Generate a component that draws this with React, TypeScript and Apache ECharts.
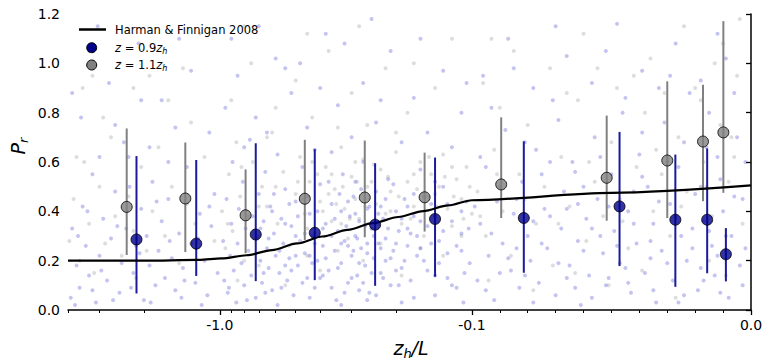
import React, { useEffect, useRef } from "react";
import * as echarts from "echarts";

// ---- data ----
const xMin = -4.0;
const xMax = 0.0;
const majorTicks = [-1.0, -0.1, 0.0];
const majorLabels = ["-1.0", "-0.1", "0.0"];
const minorTicks = [-4, -3, -2, -0.9, -0.8, -0.7, -0.6, -0.5, -0.4, -0.3, -0.2,
  -0.09, -0.08, -0.07, -0.06, -0.05, -0.04, -0.03, -0.02, -0.01];
const yTicks = [0, 0.2, 0.4, 0.6, 0.8, 1.0, 1.2];

const hfX = [-4.0, -2.0, -1.211, -0.984, -0.782, -0.621, -0.493, -0.392, -0.311, -0.247, -0.196, -0.156, -0.124, -0.1, -0.05, 0];
const hfPr = [0.2, 0.2, 0.203, 0.209, 0.222, 0.243, 0.27, 0.298, 0.325, 0.352, 0.377, 0.401, 0.424, 0.445, 0.475, 0.505];

const binXBlue = [-2.14, -1.24, -0.72, -0.42, -0.242, -0.14, -0.0814, -0.0471, -0.0271, -0.0157, -0.009];
const prBlue = [0.286, 0.269, 0.306, 0.313, 0.346, 0.369, 0.373, 0.42, 0.366, 0.366, 0.226];
const loBlue = [0.067, 0.138, 0.117, 0.121, 0.098, 0.135, 0.151, 0.178, 0.094, 0.149, 0.116];
const hiBlue = [0.624, 0.608, 0.676, 0.652, 0.595, 0.618, 0.684, 0.722, 0.63, 0.655, 0.332];

const binXGray = [-2.34, -1.37, -0.79, -0.46, -0.266, -0.154, -0.0895, -0.0517, -0.03, -0.0172, -0.0099];
const prGray = [0.418, 0.452, 0.384, 0.451, 0.456, 0.457, 0.509, 0.536, 0.606, 0.683, 0.72];
const loGray = [0.223, 0.235, 0.23, 0.284, 0.295, 0.318, 0.373, 0.362, 0.373, 0.441, 0.475];
const hiGray = [0.736, 0.679, 0.57, 0.69, 0.687, 0.638, 0.781, 0.788, 0.927, 0.913, 1.171];

const blueCloud = [
  [-3.9,0.05],[-3.85,0.33],[-3.7,0.18],[-3.6,0.09],[-3.5,0.42],[-3.4,0.26],[-3.3,0.14],[-3.2,0.55],[-3.1,0.03],[-3.0,0.22],
  [-2.9,0.37],[-2.8,0.12],[-2.7,0.29],[-2.6,0.48],[-2.5,0.07],[-2.45,0.19],[-2.35,0.33],[-2.3,0.62],[-2.2,0.15],[-2.15,0.26],
  [-2.05,0.41],[-2.0,0.04],[-1.95,0.3],[-1.9,0.18],[-1.85,0.52],[-1.8,0.1],[-1.75,0.24],[-1.7,0.36],[-1.65,0.13],[-1.6,0.45],
  [-1.55,0.21],[-1.5,0.08],[-1.45,0.31],[-1.4,0.17],[-1.35,0.58],[-1.3,0.27],[-1.25,0.11],[-1.2,0.39],[-1.15,0.2],[-1.12,0.06],
  [-1.08,0.34],[-1.05,0.47],[-1.02,0.15],[-3.55,0.78],[-2.75,0.92],[-2.1,1.08],[-1.7,0.85],[-1.3,0.97],[-3.3,1.05],[-1.1,0.72],
  [-2.4,0.68],[-1.9,0.66],[-1.5,0.74],[-3.0,0.62],
  [-3.65,0.3],[-3.35,0.4],[-2.95,0.16],[-2.55,0.34],[-2.28,0.5],[-2.08,0.23],[-1.78,0.44],[-1.58,0.28],[-1.38,0.12],[-1.22,0.29],
  [-1.1,0.42],[-1.6,0.6],[-2.6,0.75],[-3.85,0.88],[-2.05,0.85],[-1.45,1.1],[-3.05,1.15],
  [-0.97,0.28],[-0.96,0.12],[-0.94,0.45],[-0.93,0.07],[-0.91,0.22],[-0.9,0.35],[-0.89,0.6],[-0.88,0.16],[-0.86,0.03],[-0.85,0.27],
  [-0.84,0.41],[-0.82,0.19],[-0.81,0.52],[-0.8,0.1],[-0.79,0.33],[-0.77,0.24],[-0.76,0.69],[-0.75,0.14],[-0.74,0.38],[-0.72,0.05],
  [-0.71,0.29],[-0.7,0.47],[-0.69,0.2],[-0.68,0.11],[-0.67,0.36],[-0.66,0.56],[-0.65,0.25],[-0.64,0.17],[-0.63,0.42],[-0.62,0.08],
  [-0.61,0.31],[-0.6,0.22],[-0.59,0.63],[-0.58,0.15],[-0.57,0.37],[-0.56,0.27],[-0.55,0.49],[-0.54,0.12],[-0.53,0.21],[-0.52,0.34],
  [-0.51,0.06],[-0.5,0.44],[-0.49,0.18],[-0.48,0.28],[-0.47,0.58],[-0.46,0.23],[-0.45,0.13],[-0.44,0.39],[-0.43,0.3],[-0.42,0.09],
  [-0.41,0.2],[-0.4,0.51],[-0.39,0.26],[-0.38,0.35],[-0.37,0.16],[-0.36,0.43],[-0.35,0.24],[-0.345,0.04],[-0.34,0.32],[-0.33,0.19],
  [-0.325,0.55],[-0.32,0.28],[-0.31,0.11],[-0.305,0.38],[-0.3,0.22],[-0.295,0.46],[-0.29,0.3],[-0.285,0.14],[-0.28,0.36],[-0.275,0.25],
  [-0.27,0.6],[-0.265,0.18],[-0.26,0.41],[-0.255,0.07],[-0.25,0.33],[-0.245,0.21],[-0.24,0.48],[-0.235,0.27],[-0.23,0.15],[-0.225,0.37],
  [-0.22,0.29],[-0.215,0.53],[-0.21,0.1],[-0.205,0.24],[-0.2,0.4],[-0.195,0.32],[-0.19,0.17],[-0.185,0.45],[-0.18,0.26],[-0.175,0.12],
  [-0.17,0.38],[-0.165,0.3],[-0.16,0.57],[-0.155,0.2],[-0.15,0.34],[-0.145,0.43],[-0.14,0.14],[-0.135,0.28],[-0.13,0.5],[-0.125,0.23],
  [-0.12,0.36],[-0.115,0.09],[-0.11,0.31],[-0.105,0.44],[-0.102,0.19],
  [-0.69,0.33],[-0.67,0.15],[-0.64,0.29],[-0.61,0.47],[-0.58,0.24],[-0.57,0.09],[-0.55,0.35],[-0.53,0.43],[-0.52,0.16],[-0.5,0.22],
  [-0.49,0.38],[-0.47,0.11],[-0.46,0.31],[-0.45,0.46],[-0.43,0.19],[-0.42,0.27],[-0.41,0.4],[-0.4,0.13],[-0.39,0.33],[-0.38,0.21],
  [-0.37,0.52],[-0.36,0.09],[-0.35,0.37],[-0.34,0.17],[-0.335,0.47],[-0.33,0.27],[-0.32,0.07],[-0.315,0.34],[-0.31,0.44],[-0.3,0.13],
  [-0.295,0.24],[-0.29,0.39],[-0.285,0.29],[-0.28,0.19],[-0.275,0.49],[-0.27,0.11],[-0.265,0.34],[-0.26,0.23],[-0.255,0.42],[-0.25,0.15],
  [-0.245,0.3],[-0.24,0.06],[-0.235,0.39],[-0.23,0.25],[-0.225,0.13],[-0.22,0.45],[-0.215,0.33],[-0.21,0.21],[-0.205,0.51],[-0.2,0.27],
  [-0.195,0.1],[-0.19,0.37],[-0.185,0.2],[-0.18,0.42],[-0.175,0.31],[-0.17,0.05],[-0.165,0.22],[-0.16,0.36],[-0.155,0.46],[-0.15,0.16],
  [-0.145,0.27],[-0.14,0.52],[-0.135,0.19],[-0.13,0.32],[-0.125,0.43],[-0.12,0.1],[-0.115,0.26],[-0.11,0.4],[-0.107,0.15],[-0.103,0.33],
  [-0.95,0.82],[-0.85,0.95],[-0.72,0.78],[-0.6,1.02],[-0.52,0.88],[-0.45,0.74],[-0.38,1.12],[-0.34,0.83],[-0.3,0.7],[-0.27,0.92],
  [-0.24,0.76],[-0.21,1.05],[-0.19,0.68],[-0.17,0.86],[-0.15,0.72],[-0.13,0.97],[-0.12,0.66],[-0.11,0.8],[-0.65,0.72],[-0.8,0.66],
  [-0.42,0.65],[-0.36,0.64],[-0.48,1.0],[-0.7,1.15],[-0.25,1.18],
  [-0.9,1.1],[-0.55,0.98],[-0.4,0.9],[-0.32,1.08],[-0.23,0.85],[-0.16,1.1],[-0.105,0.92],
  [-0.44,0.22],[-0.39,0.14],[-0.33,0.4],[-0.28,0.08],[-0.26,0.27],[-0.23,0.42],[-0.2,0.16],[-0.18,0.33],[-0.16,0.25],[-0.14,0.38],
  [-0.125,0.13],[-0.11,0.24],[-0.31,0.26],[-0.36,0.3],[-0.5,0.3],[-0.55,0.18],[-0.62,0.4],[-0.29,0.52],[-0.22,0.2],[-0.17,0.47],
  [-3.75,0.02],[-3.2,0.08],[-2.65,0.04],[-2.25,0.09],[-1.88,0.03],[-1.42,0.05],[-1.18,0.02],[-0.92,0.09],[-0.78,0.04],[-0.66,0.07],
  [-0.59,0.02],[-0.44,0.05],[-0.33,0.02],[-0.26,0.04],[-0.19,0.03],[-0.14,0.06],[-0.108,0.03],
  [-0.098,0.12],[-0.097,0.35],[-0.095,0.58],[-0.094,0.22],[-0.092,0.04],[-0.091,0.44],[-0.089,0.27],[-0.088,0.73],[-0.086,0.16],[-0.085,0.39],
  [-0.083,0.09],[-0.082,0.52],[-0.08,0.3],[-0.079,0.2],[-0.077,0.65],[-0.076,0.11],[-0.074,0.41],[-0.073,0.25],[-0.071,0.85],[-0.07,0.06],
  [-0.068,0.33],[-0.067,0.48],[-0.065,0.18],[-0.064,0.6],[-0.062,0.28],[-0.061,0.02],[-0.059,0.37],[-0.058,0.14],[-0.056,0.7],[-0.055,0.45],
  [-0.053,0.23],[-0.052,0.1],[-0.05,0.55],[-0.049,0.32],[-0.047,0.19],[-0.046,0.8],[-0.044,0.4],[-0.043,0.07],[-0.041,0.27],[-0.04,0.63],
  [-0.038,0.15],[-0.037,0.5],[-0.035,0.35],[-0.034,0.03],[-0.032,0.24],[-0.031,0.76],[-0.029,0.43],[-0.028,0.12],[-0.026,0.58],[-0.025,0.3],
  [-0.023,0.2],[-0.022,0.88],[-0.02,0.47],[-0.019,0.08],[-0.017,0.36],[-0.016,0.66],[-0.014,0.26],[-0.013,0.14],[-0.011,0.53],[-0.01,0.4],
  [-0.008,0.05],[-0.007,0.3],[-0.005,0.7],[-0.004,0.18],[-0.003,0.45],
  [-0.097,0.62],[-0.093,0.31],[-0.09,0.5],[-0.087,0.21],[-0.084,0.45],[-0.081,0.14],[-0.078,0.36],[-0.075,0.27],[-0.072,0.6],[-0.069,0.19],
  [-0.066,0.41],[-0.063,0.56],[-0.06,0.24],[-0.057,0.33],[-0.054,0.62],[-0.051,0.42],[-0.048,0.26],[-0.045,0.17],[-0.042,0.35],[-0.039,0.54],
  [-0.036,0.28],[-0.033,0.44],[-0.03,0.19],[-0.027,0.38],[-0.024,0.68],[-0.021,0.25],[-0.018,0.5],[-0.015,0.32],[-0.012,0.62],[-0.009,0.3],
  [-0.006,0.46],[-0.002,0.25],
  [-0.095,0.08],[-0.078,0.03],[-0.066,0.13],[-0.057,0.05],[-0.044,0.11],[-0.035,0.08],[-0.026,0.03],[-0.018,0.17],[-0.011,0.07],[-0.003,0.1],
  [-0.096,0.95],[-0.087,1.1],[-0.078,0.9],[-0.066,1.03],[-0.057,0.92],[-0.048,1.16],[-0.039,0.97],[-0.027,1.08],[-0.018,0.93],[-0.009,1.02],
  [-0.093,0.82],[-0.069,0.77],[-0.045,0.86],[-0.033,0.9],[-0.015,0.8],[-0.006,0.88],
  [-0.085,0.98],[-0.07,1.15],[-0.052,1.05],[-0.029,0.95],[-0.012,1.12],
  [-0.099,0.42],[-0.09,0.15],[-0.084,0.25],[-0.075,0.55],[-0.072,0.38],[-0.063,0.09],[-0.06,0.5],[-0.054,0.3],[-0.051,0.13],[-0.042,0.48],
  [-0.036,0.21],[-0.03,0.6],[-0.024,0.06],[-0.021,0.33],[-0.012,0.22],[-0.002,0.6],[-0.081,0.68],[-0.039,0.72],[-0.062,0.43],[-0.017,0.12],
];

const grayCloud = [
  [-3.95,0.28],[-3.8,0.45],[-3.6,0.2],[-3.45,0.6],[-3.3,0.35],[-3.15,0.15],[-3.0,0.5],[-2.85,0.27],[-2.7,0.7],[-2.6,0.38],
  [-2.45,0.22],[-2.3,0.46],[-2.2,0.32],[-2.05,0.58],[-1.95,0.24],[-1.85,0.4],[-1.75,0.66],[-1.65,0.3],[-1.55,0.5],[-1.45,0.19],
  [-1.35,0.43],[-1.25,0.35],[-1.15,0.62],[-1.05,0.28],[-3.5,0.9],[-2.5,1.0],[-1.6,0.85],[-1.2,1.12],[-2.9,0.78],[-1.9,0.95],
  [-3.7,0.62],[-2.15,0.13],[-1.3,0.76],[-3.2,0.95],[-2.2,0.9],[-1.4,0.98],
  [-0.98,0.4],[-0.95,0.25],[-0.92,0.55],[-0.89,0.32],[-0.86,0.68],[-0.83,0.46],[-0.8,0.2],[-0.77,0.38],[-0.74,0.6],[-0.71,0.3],
  [-0.68,0.5],[-0.65,0.42],[-0.62,0.72],[-0.59,0.35],[-0.56,0.56],[-0.53,0.26],[-0.5,0.47],[-0.48,0.62],[-0.46,0.39],[-0.44,0.52],
  [-0.42,0.31],[-0.4,0.44],[-0.38,0.58],[-0.36,0.36],[-0.35,0.49],[-0.33,0.66],[-0.32,0.41],[-0.31,0.29],[-0.3,0.54],[-0.29,0.45],
  [-0.28,0.37],[-0.27,0.61],[-0.26,0.5],[-0.25,0.33],[-0.24,0.43],[-0.23,0.57],[-0.22,0.39],[-0.21,0.48],[-0.2,0.64],[-0.19,0.35],
  [-0.18,0.52],[-0.17,0.42],[-0.16,0.6],[-0.155,0.3],[-0.15,0.46],[-0.145,0.55],[-0.14,0.38],[-0.135,0.5],[-0.13,0.63],[-0.125,0.41],
  [-0.12,0.34],[-0.115,0.53],[-0.11,0.45],[-0.105,0.58],[-0.1,0.39],
  [-0.49,0.52],[-0.45,0.33],[-0.43,0.6],[-0.39,0.4],[-0.36,0.55],[-0.345,0.43],[-0.325,0.5],[-0.305,0.37],[-0.285,0.52],[-0.265,0.42],
  [-0.245,0.59],[-0.235,0.35],[-0.215,0.54],[-0.195,0.46],[-0.175,0.37],[-0.165,0.49],[-0.148,0.62],[-0.138,0.42],[-0.128,0.54],[-0.118,0.46],
  [-0.108,0.37],[-0.102,0.5],[-0.6,0.5],[-0.7,0.42],[-0.82,0.58],[-0.93,0.35],
  [-0.9,0.85],[-0.75,1.0],[-0.6,0.82],[-0.5,0.93],[-0.43,0.78],[-0.37,1.05],[-0.3,0.88],[-0.26,0.75],[-0.22,0.98],[-0.18,0.8],
  [-0.14,0.9],[-0.12,1.1],[-0.65,0.7],[-0.34,0.74],[-0.2,0.72],[-0.8,1.15],[-0.45,1.12],[-0.28,1.15],[-0.17,1.0],
  [-0.85,0.12],[-0.7,0.18],[-0.55,0.1],[-0.45,0.22],[-0.4,0.16],[-0.34,0.24],[-0.27,0.2],[-0.23,0.27],[-0.19,0.14],[-0.16,0.25],
  [-0.13,0.22],[-0.11,0.3],
  [-0.47,0.45],[-0.41,0.55],[-0.37,0.47],[-0.33,0.35],[-0.29,0.6],[-0.25,0.52],[-0.21,0.4],[-0.17,0.55],[-0.14,0.47],[-0.12,0.58],
  [-0.098,0.48],[-0.095,0.3],[-0.092,0.65],[-0.089,0.4],[-0.086,0.22],[-0.083,0.55],[-0.08,0.75],[-0.077,0.35],[-0.074,0.5],[-0.071,0.18],
  [-0.068,0.62],[-0.065,0.42],[-0.062,0.85],[-0.059,0.28],[-0.056,0.52],[-0.053,0.38],[-0.05,0.68],[-0.047,0.45],[-0.044,0.25],[-0.041,0.58],
  [-0.038,0.8],[-0.035,0.4],[-0.032,0.55],[-0.029,0.3],[-0.026,0.7],[-0.023,0.48],[-0.02,0.9],[-0.017,0.6],[-0.014,0.38],[-0.011,0.75],
  [-0.008,0.52],[-0.005,0.95],[-0.003,0.35],
  [-0.097,0.38],[-0.091,0.55],[-0.081,0.45],[-0.069,0.35],[-0.058,0.6],[-0.046,0.36],[-0.034,0.65],[-0.025,0.42],[-0.016,0.5],[-0.006,0.62],
  [-0.096,0.92],[-0.085,1.05],[-0.072,0.98],[-0.06,1.12],[-0.048,0.9],[-0.036,1.02],[-0.024,1.15],[-0.013,1.0],[-0.004,1.18],[-0.09,0.82],
  [-0.066,0.88],[-0.042,0.95],[-0.018,0.85],[-0.007,0.7],[-0.093,1.1],[-0.055,0.98],[-0.031,0.88],[-0.01,1.08],
  [-0.094,0.12],[-0.078,0.08],[-0.063,0.15],[-0.051,0.1],[-0.039,0.16],[-0.027,0.05],[-0.015,0.2],[-0.009,0.14],
];

// ---- symlog-like transform (linear within |x| <= 0.1) ----
const LIN = 0.1;
const LINSCALE = 279 / 252;
function tx(x: number): number {
  if (x >= -LIN) return (x / LIN) * LINSCALE;
  return -LINSCALE - Math.log10(-x / LIN);
}

const FONT = "DejaVu Sans";

export default function App() {
  const ref = useRef<HTMLDivElement>(null);
  useEffect(() => {
    if (!ref.current) return;
    const chart = echarts.init(ref.current, undefined, { renderer: "svg" });
    const majorT = majorTicks.map(tx);
    const minorT = minorTicks.map(tx);

    const errSeries = (xs: number[], lo: number[], hi: number[], color: string) => ({
      type: "custom",
      z: 3,
      clip: false,
      data: xs.map((x, i) => [tx(x), lo[i], hi[i]]),
      encode: { x: 0, y: [1, 2] },
      renderItem: (_p: any, api: any) => {
        const a = api.coord([api.value(0), api.value(1)]);
        const b = api.coord([api.value(0), api.value(2)]);
        return {
          type: "line",
          shape: { x1: a[0], y1: a[1], x2: b[0], y2: b[1] },
          style: { stroke: color, lineWidth: 2 },
        };
      },
    });

    const sub = (size: number, pad: number) => ({ fontSize: size, fontFamily: FONT, fontStyle: "italic", padding: [pad, 0, 0, 0] });

    chart.setOption({
      animation: false,
      backgroundColor: "#fff",
      grid: { left: 68, right: 15, top: 14, bottom: 50, outerBoundsMode: "none" },
      xAxis: [
        {
          type: "value", min: tx(xMin), max: tx(xMax), position: "bottom",
          axisLine: { show: true, lineStyle: { color: "#000", width: 1.5 } },
          axisTick: { show: true, customValues: majorT, length: 5, lineStyle: { color: "#000", width: 1.3 } },
          axisLabel: {
            show: true, customValues: majorT, margin: 8, color: "#000", fontSize: 14, fontFamily: FONT,
            formatter: (v: number) => {
              let best = 0;
              majorT.forEach((t, i) => { if (Math.abs(t - v) < Math.abs(majorT[best] - v)) best = i; });
              return majorLabels[best];
            },
          },
          splitLine: { show: false },
        },
        {
          type: "value", min: tx(xMin), max: tx(xMax), position: "bottom",
          axisLine: { show: false },
          axisTick: { show: true, customValues: minorT, length: 3, lineStyle: { color: "#000", width: 1 } },
          axisLabel: { show: false },
          splitLine: { show: false },
        },
      ],
      yAxis: {
        type: "value", min: yTicks[0], max: yTicks[yTicks.length - 1], interval: 0.2,
        axisLine: { show: true, lineStyle: { color: "#000", width: 1.5 } },
        axisTick: { show: true, length: 5, lineStyle: { color: "#000", width: 1.3 } },
        axisLabel: { margin: 8, color: "#000", fontSize: 14, fontFamily: FONT, formatter: (v: number) => v.toFixed(1) },
        splitLine: { show: false },
      },
      series: [
        {
          type: "scatter", z: 1, symbol: "circle", symbolSize: 4, silent: true,
          itemStyle: { color: "rgba(150,150,150,0.4)" },
          data: grayCloud.map(([x, y]) => [tx(x), y]),
        },
        {
          type: "scatter", z: 1, symbol: "circle", symbolSize: 4, silent: true,
          itemStyle: { color: "rgba(70,70,210,0.4)" },
          data: blueCloud.map(([x, y]) => [tx(x), y]),
        },
        errSeries(binXGray, loGray, hiGray, "#808080"),
        errSeries(binXBlue, loBlue, hiBlue, "#1a1a9a"),
        {
          type: "line", z: 4, name: "Harman & Finnigan 2008", symbol: "none", smooth: 0.3, smoothMonotone: "x",
          lineStyle: { color: "#000", width: 2.2 },
          data: hfX.map((x, i) => [tx(x), hfPr[i]]),
        },
        {
          type: "scatter", z: 5, symbol: "circle", symbolSize: 11,
          itemStyle: { color: "#808080", borderColor: "#000", borderWidth: 1 },
          data: binXGray.map((x, i) => [tx(x), prGray[i]]),
        },
        {
          type: "scatter", z: 5, symbol: "circle", symbolSize: 11,
          itemStyle: { color: "#00008b", borderColor: "#000", borderWidth: 1 },
          data: binXBlue.map((x, i) => [tx(x), prBlue[i]]),
        },
      ],
      graphic: [
        { type: "line", shape: { x1: 79, y1: 29.5, x2: 106, y2: 29.5 }, style: { stroke: "#000", lineWidth: 2.5 }, z: 10 },
        { type: "circle", shape: { cx: 91.7, cy: 47.7, r: 5 }, style: { fill: "#00008b", stroke: "#000", lineWidth: 1 }, z: 10 },
        { type: "circle", shape: { cx: 91.7, cy: 65, r: 5 }, style: { fill: "#808080", stroke: "#000", lineWidth: 1 }, z: 10 },
        {
          type: "text", x: 115, y: 29.5, z: 10,
          style: { text: "Harman & Finnigan 2008", fontSize: 11.5, fontFamily: FONT, fill: "#000", verticalAlign: "middle" },
        },
        {
          type: "text", x: 115, y: 47.5, z: 10,
          style: {
            text: "{i|z} = 0.9{i|z}{s|h}", fontSize: 11.5, fontFamily: FONT, fill: "#000", verticalAlign: "middle",
            rich: { i: { fontSize: 11.5, fontFamily: FONT, fontStyle: "italic" }, s: sub(8, 7) },
          },
        },
        {
          type: "text", x: 115, y: 65, z: 10,
          style: {
            text: "{i|z} = 1.1{i|z}{s|h}", fontSize: 11.5, fontFamily: FONT, fill: "#000", verticalAlign: "middle",
            rich: { i: { fontSize: 11.5, fontFamily: FONT, fontStyle: "italic" }, s: sub(8, 7) },
          },
        },
        {
          type: "text", x: 18, y: 146, rotation: Math.PI / 2, z: 10,
          style: {
            text: "{i|P}{s|r}", fill: "#000", align: "center", verticalAlign: "middle",
            rich: { i: { fontSize: 19, fontFamily: FONT, fontStyle: "italic" }, s: sub(13, 10) },
          },
        },
        {
          type: "text", x: 411, y: 348, z: 10,
          style: {
            text: "{i|z}{s|h}{i|/L}", fill: "#000", align: "center", verticalAlign: "middle",
            rich: { i: { fontSize: 19, fontFamily: FONT, fontStyle: "italic" }, s: sub(13, 10) },
          },
        },
      ],
    });
    return () => chart.dispose();
  }, []);
  return <div ref={ref} style={{ position: "absolute", left: 0, top: 0, width: 766, height: 360 }} />;
}
